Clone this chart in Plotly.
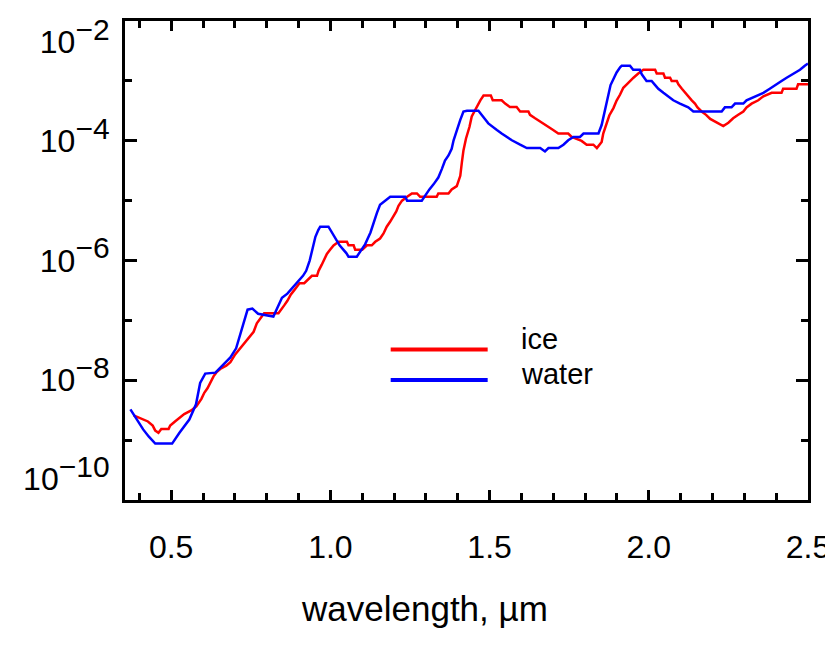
import plotly.graph_objects as go

# ---- data ----
water_wl = [
    0.372, 0.393, 0.412, 0.430, 0.450, 0.503, 0.526, 0.557, 0.578, 0.591,
    0.607, 0.639, 0.661, 0.686, 0.704, 0.722, 0.740, 0.755, 0.773, 0.821,
    0.830, 0.848, 0.865, 0.886, 0.903, 0.914, 0.924, 0.935, 0.944, 0.953,
    0.962, 0.968, 0.994, 1.010, 1.029, 1.050, 1.057, 1.083, 1.099, 1.109,
    1.126, 1.135, 1.146, 1.156, 1.172, 1.188, 1.235, 1.241, 1.287, 1.295,
    1.311, 1.324, 1.339, 1.350, 1.360, 1.371, 1.381, 1.387, 1.397, 1.408,
    1.418, 1.429, 1.465, 1.476, 1.486, 1.496, 1.507, 1.523, 1.538, 1.554,
    1.570, 1.596, 1.617, 1.659, 1.674, 1.685, 1.716, 1.732, 1.747, 1.763,
    1.784, 1.795, 1.842, 1.852, 1.860, 1.868, 1.873, 1.880, 1.891, 1.899,
    1.910, 1.915, 1.941, 1.951, 1.972, 1.978, 1.993, 2.009, 2.020, 2.030,
    2.046, 2.061, 2.077, 2.098, 2.124, 2.140, 2.229, 2.239, 2.260, 2.271,
    2.297, 2.307, 2.339, 2.360, 2.380, 2.396, 2.417, 2.433, 2.454, 2.475,
    2.490, 2.500,
]
water_k = [
    3.27e-9, 2.18e-9, 1.51e-9, 1.14e-9, 8.75e-10, 8.75e-10, 1.33e-9, 2.21e-9, 3.97e-9, 9.03e-9,
    1.29e-8, 1.34e-8, 1.75e-8, 2.40e-8, 3.41e-8, 6.90e-8, 1.51e-7, 1.57e-7, 1.29e-7, 1.16e-7,
    1.51e-7, 2.38e-7, 2.79e-7, 3.75e-7, 4.88e-7, 5.55e-7, 6.73e-7, 9.96e-7, 1.57e-6, 2.49e-6,
    3.22e-6, 3.67e-6, 3.67e-6, 2.65e-6, 1.79e-6, 1.33e-6, 1.16e-6, 1.16e-6, 1.57e-6, 1.86e-6,
    2.94e-6, 4.18e-6, 6.18e-6, 8.55e-6, 1.00e-5, 1.16e-5, 1.16e-5, 1.00e-5, 1.00e-5, 1.16e-5,
    1.54e-5, 1.87e-5, 2.43e-5, 3.36e-5, 4.67e-5, 5.68e-5, 7.34e-5, 1.02e-4, 1.51e-4, 2.23e-4,
    3.08e-4, 3.17e-4, 3.17e-4, 2.71e-4, 2.28e-4, 1.95e-4, 1.78e-4, 1.51e-4, 1.32e-4, 1.16e-4,
    1.02e-4, 8.59e-5, 7.55e-5, 7.55e-5, 6.64e-5, 7.55e-5, 7.55e-5, 8.59e-5, 1.02e-4, 1.16e-4,
    1.16e-4, 1.32e-4, 1.32e-4, 1.83e-4, 2.80e-4, 4.47e-4, 6.35e-4, 8.51e-4, 1.13e-3, 1.38e-3,
    1.68e-3, 1.79e-3, 1.79e-3, 1.53e-3, 1.53e-3, 1.29e-3, 9.96e-4, 9.96e-4, 8.51e-4, 7.38e-4,
    6.31e-4, 5.54e-4, 4.74e-4, 4.17e-4, 3.61e-4, 3.08e-4, 3.08e-4, 3.61e-4, 3.61e-4, 4.17e-4,
    4.17e-4, 4.74e-4, 5.54e-4, 6.31e-4, 7.38e-4, 8.51e-4, 9.96e-4, 1.13e-3, 1.33e-3, 1.53e-3,
    1.79e-3, 1.94e-3,
]

ice_wl = [
    0.382, 0.403, 0.427, 0.442, 0.450, 0.460, 0.469, 0.492, 0.497, 0.512,
    0.526, 0.541, 0.563, 0.579, 0.595, 0.604, 0.614, 0.623, 0.633, 0.642,
    0.654, 0.673, 0.686, 0.701, 0.722, 0.740, 0.759, 0.769, 0.785, 0.792,
    0.837, 0.848, 0.855, 0.865, 0.876, 0.886, 0.895, 0.903, 0.918, 0.928,
    0.942, 0.958, 0.963, 0.973, 0.982, 0.989, 0.999, 1.010, 1.026, 1.052,
    1.057, 1.073, 1.078, 1.100, 1.115, 1.130, 1.141, 1.156, 1.167, 1.177,
    1.188, 1.198, 1.207, 1.214, 1.225, 1.241, 1.256, 1.272, 1.282, 1.334,
    1.339, 1.371, 1.381, 1.397, 1.408, 1.413, 1.418, 1.426, 1.437, 1.444,
    1.455, 1.465, 1.471, 1.481, 1.504, 1.510, 1.538, 1.549, 1.564, 1.585,
    1.596, 1.622, 1.627, 1.643, 1.664, 1.680, 1.695, 1.716, 1.747, 1.758,
    1.789, 1.805, 1.826, 1.837, 1.852, 1.857, 1.868, 1.876, 1.889, 1.899,
    1.910, 1.920, 1.931, 1.941, 1.952, 1.967, 1.983, 2.020, 2.025, 2.046,
    2.051, 2.067, 2.072, 2.088, 2.093, 2.104, 2.114, 2.124, 2.135, 2.145,
    2.153, 2.166, 2.180, 2.193, 2.213, 2.234, 2.250, 2.265, 2.281, 2.297,
    2.307, 2.323, 2.344, 2.360, 2.386, 2.417, 2.422, 2.464, 2.469, 2.500,
]
ice_k = [
    2.59e-9, 2.33e-9, 2.05e-9, 1.75e-9, 1.44e-9, 1.33e-9, 1.54e-9, 1.54e-9, 1.75e-9, 2.05e-9,
    2.33e-9, 2.72e-9, 3.14e-9, 3.67e-9, 4.89e-9, 6.18e-9, 7.34e-9, 9.14e-9, 1.16e-8, 1.35e-8,
    1.54e-8, 1.75e-8, 2.00e-8, 2.70e-8, 3.69e-8, 4.85e-8, 6.45e-8, 8.96e-8, 1.16e-7, 1.32e-7,
    1.32e-7, 1.55e-7, 1.78e-7, 2.12e-7, 2.71e-7, 3.17e-7, 3.61e-7, 4.17e-7, 4.17e-7, 4.74e-7,
    5.55e-7, 5.55e-7, 6.73e-7, 8.51e-7, 1.06e-6, 1.29e-6, 1.51e-6, 1.79e-6, 2.05e-6, 2.05e-6,
    1.79e-6, 1.79e-6, 1.51e-6, 1.51e-6, 1.79e-6, 1.79e-6, 2.05e-6, 2.33e-6, 2.83e-6, 3.67e-6,
    4.47e-6, 5.43e-6, 6.61e-6, 8.22e-6, 1.00e-5, 1.16e-5, 1.32e-5, 1.32e-5, 1.16e-5, 1.16e-5,
    1.32e-5, 1.32e-5, 1.54e-5, 1.75e-5, 2.60e-5, 4.37e-5, 6.90e-5, 1.09e-4, 1.71e-4, 2.54e-4,
    3.30e-4, 4.01e-4, 4.74e-4, 5.70e-4, 5.70e-4, 4.74e-4, 4.74e-4, 4.17e-4, 3.65e-4, 3.65e-4,
    3.08e-4, 3.08e-4, 2.71e-4, 2.37e-4, 2.03e-4, 1.78e-4, 1.57e-4, 1.32e-4, 1.32e-4, 1.16e-4,
    9.93e-5, 8.59e-5, 8.59e-5, 7.55e-5, 9.55e-5, 1.32e-4, 1.89e-4, 2.64e-4, 3.51e-4, 4.70e-4,
    5.92e-4, 7.67e-4, 8.75e-4, 9.96e-4, 1.13e-3, 1.33e-3, 1.53e-3, 1.53e-3, 1.33e-3, 1.33e-3,
    1.13e-3, 1.13e-3, 9.96e-4, 9.96e-4, 8.75e-4, 7.38e-4, 6.31e-4, 5.54e-4, 4.74e-4, 4.17e-4,
    3.61e-4, 3.08e-4, 2.71e-4, 2.32e-4, 2.00e-4, 1.76e-4, 2.00e-4, 2.37e-4, 2.71e-4, 3.08e-4,
    3.61e-4, 4.17e-4, 4.74e-4, 5.54e-4, 6.31e-4, 6.31e-4, 7.38e-4, 7.38e-4, 8.75e-4, 8.75e-4,
]

x_tick_vals = [0.5, 1.0, 1.5, 2.0, 2.5]
x_tick_text = ["0.5", "1.0", "1.5", "2.0", "2.5"]
y_tick_vals = [1e-10, 1e-8, 1e-6, 1e-4, 1e-2]
y_tick_exps = ["−10", "−8", "−6", "−4", "−2"]
y_minor_vals = [1e-9, 1e-7, 1e-5, 1e-3]

series_names = ["ice", "water"]
series_colors = ["#ff0000", "#0000ff"]

FONT = "Liberation Sans"

fig = go.Figure()
fig.add_trace(go.Scatter(x=ice_wl, y=ice_k, mode="lines", name=series_names[0],
                         line=dict(color=series_colors[0], width=2.5)))
fig.add_trace(go.Scatter(x=water_wl, y=water_k, mode="lines", name=series_names[1],
                         line=dict(color=series_colors[1], width=2.5)))

y_tick_text = ['10<sup><span style="font-size:30px;">' + e + '</span></sup>' for e in y_tick_exps]
# the end labels sit inside the axis span, as in the reference
y_tick_text[0] = y_tick_text[0] + "<br> "
y_tick_text[-1] = " <br>" + y_tick_text[-1]

# the page body adds an 8px offset, so the figure is 8px smaller than the window
fig.update_layout(
    width=825, height=638,
    margin=dict(l=117, r=25, t=13, b=146, autoexpand=False),
    paper_bgcolor="white", plot_bgcolor="white",
    showlegend=False,
    font=dict(family=FONT, color="black", size=32),
    xaxis=dict(
        range=[0.355, 2.5001], showgrid=False, zeroline=False, automargin=False,
        showline=True, linecolor="black", linewidth=3, mirror="allticks",
        ticks="inside", ticklen=10, tickwidth=3, tickcolor="black",
        tickvals=x_tick_vals, ticktext=x_tick_text,
        tickfont=dict(family=FONT, size=32, color="black"),
        ticklabelstandoff=17, ticklabeloverflow="allow",
        minor=dict(dtick=0.1, tick0=0.0, ticks="inside", ticklen=7, tickwidth=3, tickcolor="black"),
    ),
    yaxis=dict(
        type="log", range=[-10.0001, -1.9999], showgrid=False, zeroline=False, automargin=False,
        showline=True, linecolor="black", linewidth=3, mirror="allticks",
        ticks="inside", ticklen=12, tickwidth=3, tickcolor="black",
        tickvals=y_tick_vals, ticktext=y_tick_text,
        tickfont=dict(family=FONT, size=32, color="black"),
        ticklabelstandoff=6, ticklabeloverflow="allow",
        minor=dict(tickvals=y_minor_vals, ticks="inside", ticklen=7, tickwidth=3, tickcolor="black"),
    ),
)

# axis title
fig.add_annotation(text="wavelength, µm", xref="paper", yref="paper",
                   x=0.438, y=-0.226, xanchor="center", yanchor="middle",
                   showarrow=False, font=dict(family=FONT, size=35, color="black"))

# legend (drawn inside the plot)
legend_y = [0.314, 0.2505]
legend_text_y = [0.336, 0.2635]
for name, color, ly, ty in zip(series_names, series_colors, legend_y, legend_text_y):
    fig.add_shape(type="line", xref="paper", yref="paper", x0=0.389, x1=0.531, y0=ly, y1=ly,
                  line=dict(color=color, width=4))
    fig.add_annotation(text=name, xref="paper", yref="paper", x=0.578, y=ty,
                       xanchor="left", yanchor="middle", showarrow=False, borderpad=0,
                       font=dict(family=FONT, size=29, color="black"))

fig.write_html("out.html")
